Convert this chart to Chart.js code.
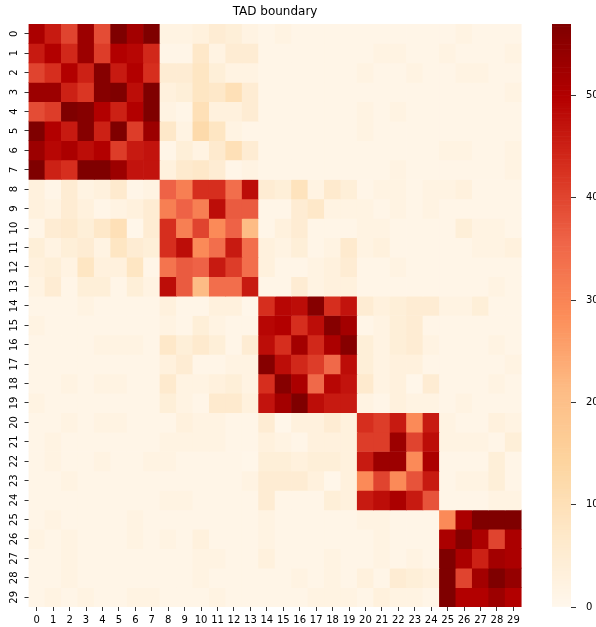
<!DOCTYPE html>
<html>
<head>
<meta charset="utf-8">
<script src="https://cdn.jsdelivr.net/npm/chart.js@4.4.1/dist/chart.umd.min.js"></script>
<style>
body { margin: 0; background: #fff; }
#wrap { position: relative; width: 596px; height: 627px; overflow: hidden; }
canvas { position: absolute; top: 0; }
</style>
</head>
<body>
<div id="wrap">
  <canvas id="heat" width="540" height="627" style="left:0"></canvas>
  <canvas id="cbar" width="56" height="627" style="left:540px"></canvas>
</div>
<script>
// Tick labels
const colLabels = Array.from({length: 30}, (_, i) => String(i));
const rowLabels = Array.from({length: 30}, (_, i) => String(i));
const cbarTicks = [0, 10, 20, 30, 40, 50];

// Contact values, one array per row
const r00 = [51,46,40,53,39,57,52,57, 2,2, 3,5,4,2, 1,2,1,1,1,1, 1,1,1,1,1, 1,2,1,1,1];
const r01 = [46,50,44,53,41,50,49,44, 1,1, 7,2,5,5, 1,1,1,1,1,1, 1,2,2,1,1, 2,1,1,1,2];
const r02 = [40,43,50,45,56,46,50,43, 5,5, 8,4,2,2, 1,1,1,1,1,1, 2,1,1,2,1, 1,2,2,1,1];
const r03 = [53,53,45,42,56,57,48,57, 3,4, 8,7,10,5, 1,1,1,1,1,1, 1,1,1,1,1, 1,1,1,1,2];
const r04 = [39,41,57,56,50,45,50,57, 2,1, 10,3,3,5, 1,1,1,1,1,1, 2,1,2,1,1, 1,1,1,1,1];
const r05 = [57,50,46,56,45,57,41,53, 7,2, 12,8,2,1, 1,1,1,1,1,1, 2,1,1,1,1, 1,1,1,1,1];
const r06 = [53,49,51,48,50,41,46,47, 1,4, 2,6,10,5, 1,1,1,1,1,1, 1,1,1,1,1, 2,2,1,1,2];
const r07 = [57,45,43,57,57,53,47,47, 3,6, 7,5,1,2, 1,1,1,1,1,1, 1,1,2,1,1, 1,1,1,1,2];
const r08 = [3,1,5,2,3,6,1,2, 36,31,43,43,34,48, 5,4,9,2,6,4, 1,2,2,1,2, 2,3,1,1,1];
const r09 = [3,2,5,3,1,2,3,5, 31,36,31,48,37,37, 1,1,5,7,2,2, 2,1,2,1,2, 1,1,1,1,1];
const r10 = [1,5,6,4,7,10,0.5,5, 43,31,40,29,36,21, 1,3,5,1,1,1, 2,2,1,1,1, 1,4,2,2,1];
const r11 = [4,2,4,5,2,8,5,4, 43,48,29,34,46,34, 3,2,4,1,2,6, 2,3,1,1,1, 1,1,2,2,3];
const r12 = [3,4,2,8,3,3,8,1, 33,37,36,46,41,34, 3,1,1,2,3,5, 1,1,2,1,1, 1,1,1,1,1];
const r13 = [2,5,1,4,4,1,4,2, 48,37,21,34,34,46, 1,1,5,2,3,3, 1,1,1,1,1, 1,1,1,2,1];
const r14 = [1,1,1,2,1,1,1,1, 3,1,1,3,3,0.5, 43,49,48,56,43,47, 5,3,4,5,5, 2,2,4,1,1];
const r15 = [2,1,1,1,1,1,1,1, 2,1,4,2,1,1, 49,50,43,48,56,52, 1,2,4,5,1, 1,1,1,1,1];
const r16 = [1,1,1,1,2,2,2,1, 7,4,6,4,1,5, 48,43,52,44,51,56, 4,2,4,5,2, 1,1,1,2,1];
const r17 = [1,1,1,1,1,1,1,1, 3,5,1,1,2,2, 56,48,44,41,35,48, 4,2,3,3,1, 1,1,1,1,2];
const r18 = [1,1,2,1,2,2,1,1, 6,2,2,3,4,2, 43,56,51,35,49,47, 6,2,3,0.5,5, 1,1,1,2,1];
const r19 = [2,1,1,1,1,1,1,1, 4,2,1,6,6,3, 47,52,57,48,46,46, 2,1,3,2,2, 1,2,1,1,1];
const r20 = [1,1,2,1,2,2,1,1,1,3, 2,2,1,1, 5,0.5,3,3,5,3, 43,41,46,29,46, 2,1,1,3,2];
const r21 = [1,2,1,1,1,1,1,1,2,2, 2,2,1,1, 3,2,1,3,3,3, 41,41,53,40,48, 2,2,2,1,4];
const r22 = [1,2,1,1,2,1,1,2,2,1, 1,1,1,0.5, 4,4,3,4,4,3, 46,53,53,29,51, 1,1,1,4,1];
const r23 = [1,1,2,1,1,1,1,1,1,1, 1,1,1,2, 5,5,5,3,0.5,3, 29,40,29,38,46, 1,2,2,4,1];
const r24 = [1,1,1,1,1,1,1,1,2,2, 1,1,1,1, 5,1,1,1,4,3, 46,48,51,46,38, 1,1,1,2,2];
const r25 = [1,2,1,1,1,1,2,1,1,1, 1,1,1,1, 2,1,1,1,1,1, 2,2,1,1,1, 29,51,57,57,57];
const r26 = [2,1,2,1,1,1,2,1,2,1, 3,1,1,1, 2,1,1,1,1,1, 1,2,1,1,1, 51,56,51,40,51];
const r27 = [1,1,2,1,1,1,1,1,1,1, 2,2,1,1, 3,1,1,1,2,1, 1,2,1,2,1, 57,51,45,52,51];
const r28 = [1,1,2,1,1,1,1,1,1,1, 2,1,1,1, 1,1,2,1,2,1, 3,1,5,4,3, 57,40,52,57,54];
const r29 = [1,2,1,2,1,1,2,2,1,1, 1,2,1,1, 1,1,1,2,2,2, 1,3,2,2,1, 57,50,50,53,50];

const rows = [r00,r01,r02,r03,r04,r05,r06,r07,r08,r09,r10,r11,r12,r13,r14,
              r15,r16,r17,r18,r19,r20,r21,r22,r23,r24,r25,r26,r27,r28,r29];

// OrRd colormap
const orrd = ['#fff7ec','#fee8c8','#fdd49e','#fdbb84','#fc8d59','#ef6548','#d7301f','#b30000','#7f0000'];
const vmax = 57;
function hexToRgb(h) { return [1, 3, 5].map(i => parseInt(h.substr(i, 2), 16)); }
function colorFor(v) {
    let t = Math.max(0, Math.min(1, v / vmax)) * (orrd.length - 1);
    let i = Math.min(Math.floor(t), orrd.length - 2);
    let f = t - i;
    const a = hexToRgb(orrd[i]), b = hexToRgb(orrd[i + 1]);
    return 'rgb(' + a.map((x, k) => Math.round(x + (b[k] - x) * f)).join(',') + ')';
}

Chart.defaults.font.family = "'DejaVu Sans', sans-serif";
Chart.defaults.font.size = 10;
Chart.defaults.color = '#000';

const tickGrid = {
    offset: false,
    drawOnChartArea: false,
    drawTicks: true,
    tickLength: 4,
    tickColor: '#000',
    tickWidth: 0.8,
};

// vertical row labels, like seaborn
const rowLabelPlugin = {
    id: 'rowLabels',
    afterDraw(chart) {
        const s = chart.scales.yl;
        const ctx = chart.ctx;
        ctx.save();
        ctx.font = "10px 'DejaVu Sans'";
        ctx.fillStyle = '#000';
        ctx.textAlign = 'center';
        ctx.textBaseline = 'middle';
        rowLabels.forEach((lab, i) => {
            const y = s.getPixelForTick(i);
            ctx.save();
            ctx.translate(14.5, y);
            ctx.rotate(-Math.PI / 2);
            ctx.fillText(lab, 0, 0);
            ctx.restore();
        });
        ctx.restore();
    }
};

let heatDatasets = rows.map((vals, r) => ({
    data: vals.map(() => [r, r + 1]),
    backgroundColor: vals.map(colorFor),
    borderWidth: 0,
    grouped: false,
    barPercentage: 1,
    categoryPercentage: 1,
}));

new Chart(document.getElementById('heat').getContext('2d'), {
    type: 'bar',
    data: { labels: colLabels, datasets: heatDatasets },
    options: {
        responsive: false,
        animation: false,
        layout: { padding: { top: 0, right: 18.4, bottom: 0, left: 0 } },
        plugins: {
            legend: { display: false },
            tooltip: { enabled: false },
            title: {
                display: true,
                fullSize: false,
                text: 'TAD boundary',
                color: '#000',
                font: { size: 12, weight: 'normal', lineHeight: 1.2 },
                padding: { top: 5, bottom: 4.6 },
            },
        },
        scales: {
            x: {
                type: 'category',
                offset: true,
                grid: tickGrid,
                border: { display: false },
                ticks: { padding: 3, maxRotation: 0, minRotation: 0, autoSkip: false },
                afterFit: s => { s.height = 20; },
            },
            y: {
                type: 'linear',
                min: 0,
                max: 30,
                reverse: true,
                display: false,
            },
            yl: {
                type: 'category',
                labels: rowLabels,
                position: 'left',
                offset: true,
                grid: tickGrid,
                border: { display: false },
                ticks: { display: false, autoSkip: false },
                afterFit: s => { s.width = 28.5; },
            },
        },
    },
    plugins: [rowLabelPlugin],
});

// colour bar
let cbarDatasets = [];
for (let k = 0; k < vmax * 4; k++) {
    const a = k / 4;
    cbarDatasets.push({
        data: [[a, a + 0.25]],
        backgroundColor: colorFor(a + 0.125),
        borderWidth: 0,
        grouped: false,
        barPercentage: 1,
        categoryPercentage: 1,
    });
}

new Chart(document.getElementById('cbar').getContext('2d'), {
    type: 'bar',
    data: { labels: ['c'], datasets: cbarDatasets },
    options: {
        responsive: false,
        animation: false,
        layout: { padding: { top: 24, right: 0, bottom: 20, left: 12 } },
        plugins: { legend: { display: false }, tooltip: { enabled: false } },
        scales: {
            x: { display: false },
            y: {
                type: 'linear',
                position: 'right',
                min: 0,
                max: vmax,
                grid: Object.assign({}, tickGrid, { tickLength: 5 }),
                border: { display: false },
                ticks: { padding: 10 },
                afterBuildTicks: s => { s.ticks = cbarTicks.map(v => ({ value: v })); },
                afterFit: s => { s.width = 25; },
            },
        },
    },
});
</script>
</body>
</html>
